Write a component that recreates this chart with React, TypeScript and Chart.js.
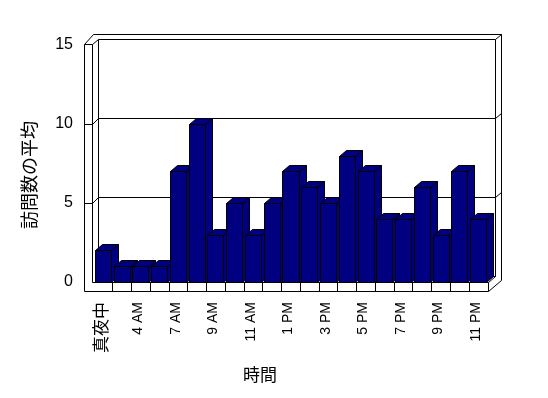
import React, { useEffect, useRef } from "react";
import { Chart, registerables } from "chart.js";

Chart.register(...registerables);

const hourLabels = [
  "真夜中", "1 AM", "4 AM", "5 AM", "7 AM", "8 AM", "9 AM", "10 AM", "11 AM",
  "12 PM", "1 PM", "2 PM", "3 PM", "4 PM", "5 PM", "6 PM", "7 PM", "8 PM",
  "9 PM", "10 PM", "11 PM",
];
const visitAverages = [2, 1, 1, 1, 7, 10, 3, 5, 3, 5, 7, 6, 5, 8, 7, 4, 4, 6, 3, 7, 4];
const yTickValues = [0, 5, 10, 15];
const yTitle = "訪問数の平均";
const xTitle = "時間";

const NAVY = "#000080";
const BAR_DX = 7;
const BAR_DY = -6;
const WALL_DX = 6;
const WALL_DY = -6;

const px = (v: number) => Math.round(v) + 0.5;

function line(ctx: CanvasRenderingContext2D, pts: number[][]) {
  ctx.beginPath();
  ctx.moveTo(px(pts[0][0]), px(pts[0][1]));
  for (let i = 1; i < pts.length; i++) ctx.lineTo(px(pts[i][0]), px(pts[i][1]));
  ctx.stroke();
}

function poly(ctx: CanvasRenderingContext2D, pts: number[][], fill: string) {
  ctx.beginPath();
  ctx.moveTo(px(pts[0][0]), px(pts[0][1]));
  for (let i = 1; i < pts.length; i++) ctx.lineTo(px(pts[i][0]), px(pts[i][1]));
  ctx.closePath();
  ctx.fillStyle = fill;
  ctx.fill();
  ctx.stroke();
}

const threeDPlugin = {
  id: "threeD",
  beforeDraw(chart: any) {
    const ctx = chart.ctx as CanvasRenderingContext2D;
    ctx.save();
    ctx.fillStyle = "#ffffff";
    ctx.fillRect(0, 0, chart.width, chart.height);
    ctx.restore();
  },
  beforeDatasetsDraw(chart: any) {
    const ctx = chart.ctx as CanvasRenderingContext2D;
    const ca = chart.chartArea;
    const ys = chart.scales.y;
    const L = ca.left;
    const R = ca.right;
    const B = ys.getPixelForValue(0);
    const T = ys.getPixelForValue(yTickValues[yTickValues.length - 1]);
    const wo = L - 9.5; // wall outer x
    const wi = L - 1.5; // wall inner x
    const floorB = B + 9;
    const bl = wi + WALL_DX;
    const bt = T + WALL_DY;
    const br = R + 7;
    const bb = B + WALL_DY;
    const ot = T - 11;
    const orr = R + 13.5;
    ctx.save();
    ctx.strokeStyle = "#000000";
    ctx.lineWidth = 1;
    // left wall
    line(ctx, [[wo, T - 1], [wi, T - 1]]);
    line(ctx, [[wo, T - 1], [wo, floorB]]);
    line(ctx, [[wi, T - 1], [wi, B]]);
    line(ctx, [[wo, T - 1], [wo + 9, ot]]);
    line(ctx, [[wi, T - 1], [bl, bt]]);
    // back wall
    line(ctx, [[wo + 9, ot], [orr, ot]]);
    line(ctx, [[bl, bt], [br, bt]]);
    line(ctx, [[bl, bt], [bl, bb]]);
    line(ctx, [[br, bt], [br, bb]]);
    line(ctx, [[br, bt], [orr, ot]]);
    line(ctx, [[orr, ot], [orr, floorB - 11]]);
    // floor
    line(ctx, [[wi, B], [R, B]]);
    line(ctx, [[wo, floorB], [R, floorB]]);
    line(ctx, [[R, B], [R, floorB]]);
    line(ctx, [[R, B], [br, bb]]);
    line(ctx, [[R, floorB], [orr, floorB - 11]]);
    line(ctx, [[bl, bb], [br, bb]]);
    const n = hourLabels.length;
    const pitch = (R - L) / n;
    for (let k = 1; k < n; k++) {
      const xx = L + k * pitch;
      line(ctx, [[xx, B], [xx, floorB]]);
    }
    // gridlines on wall faces
    for (const v of yTickValues) {
      if (v === 0 || v === yTickValues[yTickValues.length - 1]) continue;
      const yf = ys.getPixelForValue(v);
      line(ctx, [[wo, yf], [wi, yf], [bl, yf + WALL_DY], [br, yf + WALL_DY], [orr, yf - 11]]);
    }
    ctx.restore();
  },
  afterDatasetsDraw(chart: any) {
    const ctx = chart.ctx as CanvasRenderingContext2D;
    const meta = chart.getDatasetMeta(0);
    ctx.save();
    ctx.strokeStyle = "#000000";
    ctx.lineWidth = 1;
    meta.data.forEach((el: any) => {
      const { x, y, base, width } = el.getProps(["x", "y", "base", "width"], true);
      const fl = Math.round(x - width / 2);
      const fr = Math.round(x + width / 2);
      const top = Math.round(y);
      const bot = Math.round(base);
      poly(ctx, [[fr, top], [fr + BAR_DX, top + BAR_DY], [fr + BAR_DX, bot + BAR_DY], [fr, bot]], NAVY);
      poly(ctx, [[fl, top], [fl + BAR_DX, top + BAR_DY], [fr + BAR_DX, top + BAR_DY], [fr, top]], NAVY);
      poly(ctx, [[fl, top], [fr, top], [fr, bot], [fl, bot]], NAVY);
    });
    ctx.restore();
  },
  afterDraw(chart: any) {
    const ctx = chart.ctx as CanvasRenderingContext2D;
    ctx.save();
    ctx.fillStyle = "#000000";
    ctx.textAlign = "center";
    ctx.textBaseline = "middle";
    ctx.font = '18px "Noto Sans CJK JP"';
    ctx.translate(29, 175);
    ctx.rotate(-Math.PI / 2);
    ctx.fillText(yTitle, 0, 0);
    ctx.restore();
    ctx.save();
    ctx.fillStyle = "#000000";
    ctx.textAlign = "center";
    ctx.textBaseline = "middle";
    ctx.font = '17px "Noto Sans CJK JP"';
    ctx.fillText(xTitle, 260, 374.5);
    ctx.restore();
  },
};

export default function App() {
  const canvasRef = useRef<HTMLCanvasElement | null>(null);

  useEffect(() => {
    if (!canvasRef.current) return;
    const chart = new Chart(canvasRef.current, {
      type: "bar",
      data: {
        labels: hourLabels,
        datasets: [
          {
            data: visitAverages,
            backgroundColor: "rgba(0,0,0,0)",
            borderWidth: 0,
            barPercentage: 16 / 18.76,
            categoryPercentage: 1,
          },
        ],
      },
      options: {
        responsive: false,
        animation: false,
        devicePixelRatio: 1,
        layout: { padding: { left: 0, top: 45, right: 60.5, bottom: 0 } },
        plugins: {
          legend: { display: false },
          tooltip: { enabled: false },
        },
        scales: {
          x: {
            grid: { display: false, drawTicks: false },
            border: { display: false },
            afterFit: (scale: any) => {
              scale.height = 116;
            },
            ticks: {
              autoSkip: false,
              maxRotation: 90,
              minRotation: 90,
              padding: 20,
              labelOffset: -2,
              color: "#000000",
              font: (c: any) =>
                c.index === 0
                  ? { family: '"Noto Sans CJK JP"', size: 17 }
                  : { family: '"Liberation Sans"', size: 14 },
              callback: (_v: any, i: number) => (i % 2 === 0 ? hourLabels[i] : ""),
            },
          },
          y: {
            min: 0,
            max: 15,
            grid: { display: false, drawTicks: false },
            border: { display: false },
            afterFit: (scale: any) => {
              scale.width = 93.5;
            },
            ticks: {
              stepSize: 5,
              padding: 20.5,
              color: "#000000",
              font: { family: '"Liberation Sans"', size: 16 },
            },
          },
        },
      },
      plugins: [threeDPlugin],
    });
    return () => chart.destroy();
  }, []);

  return (
    <div style={{ position: "absolute", left: 0, top: 0, width: 548, height: 398, background: "#fff" }}>
      <canvas ref={canvasRef} width={548} height={398} style={{ display: "block" }} />
    </div>
  );
}
